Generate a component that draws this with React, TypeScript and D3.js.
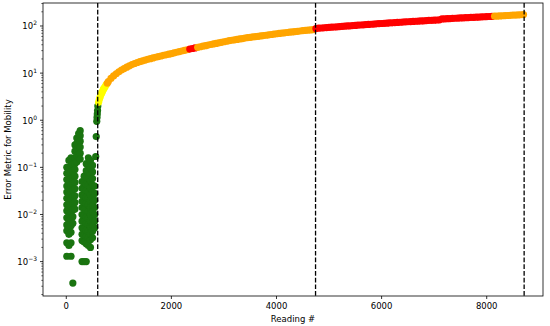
import React from "react";
import * as d3 from "d3";

// ---------- DATA ----------
// Scattered (green) readings before the first change point: [reading #, error]
const greenColumns: [number, number[]][] = [
  [10, [0.1, 0.075, 0.055, 0.04, 0.03, 0.022, 0.016, 0.012, 0.0085, 0.006, 0.0045, 0.0025, 0.0013]],
  [50, [0.14, 0.1, 0.07, 0.05, 0.035, 0.026, 0.019, 0.014, 0.01, 0.0072, 0.0052, 0.0038, 0.0022]],
  [90, [0.16, 0.11, 0.08, 0.058, 0.042, 0.03, 0.021, 0.015, 0.011, 0.008, 0.0058, 0.0042, 0.0025, 0.0013]],
  [125, [0.12, 0.085, 0.06, 0.045, 0.033, 0.024, 0.017, 0.0125, 0.009, 0.0065, 0.00035]],
  [165, [0.3, 0.22, 0.16, 0.12, 0.09, 0.065, 0.048, 0.035, 0.025, 0.018, 0.013]],
  [200, [0.42, 0.32, 0.24, 0.18, 0.13]],
  [235, [0.52, 0.4, 0.3, 0.22, 0.16]],
  [265, [0.6, 0.47, 0.36, 0.27, 0.2, 0.15]],
  [300, [0.05, 0.036, 0.026, 0.019, 0.014, 0.01, 0.0072, 0.0052, 0.0038, 0.0028, 0.001]],
  [340, [0.065, 0.047, 0.034, 0.025, 0.018, 0.013, 0.0095, 0.007, 0.005, 0.0036, 0.0026, 0.001]],
  [380, [0.12, 0.085, 0.06, 0.044, 0.032, 0.023, 0.017, 0.012, 0.0088, 0.0064, 0.0046, 0.0034, 0.0024, 0.001]],
  [420, [0.16, 0.11, 0.08, 0.058, 0.042, 0.03, 0.022, 0.016, 0.0115, 0.0083, 0.006, 0.0044, 0.0032, 0.0022]],
  [460, [0.14, 0.1, 0.072, 0.052, 0.038, 0.027, 0.02, 0.014, 0.01, 0.0075, 0.0055, 0.004, 0.0029, 0.002]],
  [500, [0.11, 0.08, 0.058, 0.042, 0.03, 0.022, 0.016, 0.0115, 0.0083, 0.006, 0.0044, 0.0032]],
  [540, [0.04, 0.028, 0.02, 0.014, 0.01, 0.0072, 0.0052]],
  [560, [0.17]],
  [570, [0.45]],
  [580, [0.95]],
  [585, [1.15]],
  [590, [1.35]],
  [595, [1.6]],
];

// Rising part of the curve right after the first change point
const rampReadings = [600, 615, 630, 645, 660, 675, 690, 705, 720, 740, 760, 780, 800];
const rampValues = [2.0, 2.4, 2.8, 3.1, 3.5, 3.8, 4.1, 4.5, 4.8, 5.2, 5.7, 6.1, 6.6];

// Rest of the curve, one value every 50 readings from 850 to 8700
const curveStart = 850;
const curveStep = 50;
const curveValues = [
  7.7, 8.7, 9.7, 10.7, 11.6, 12.5, 13.4, 14.3, 15.2, 16.0, 16.8, 17.5, 18.2, 18.9, 19.6, 20.3,
  21.0, 21.7, 22.4, 23.1, 23.8, 24.5, 25.2, 25.9, 26.8, 27.7, 28.6, 29.5, 30.4, 31.3, 32.3, 33.3,
  34.3, 35.3, 36.3, 37.3, 38.3, 39.4, 40.5, 41.6, 42.7, 43.9, 45.1, 46.3, 47.5, 48.7, 49.8, 50.9,
  52.0, 53.1, 54.2, 55.3, 56.4, 57.5, 58.5, 59.5, 60.5, 61.5, 62.5, 63.6, 64.8, 66.0, 67.2, 68.4,
  69.5, 70.6, 71.7, 72.8, 73.9, 75.0, 76.1, 77.2, 78.3, 79.4, 80.5, 81.6, 82.7, 83.8, 88.0, 89.8,
  90.6, 91.5, 92.4, 93.3, 94.3, 95.2, 96.2, 97.2, 98.1, 99.1, 100.1, 101.0, 102.0, 103.0, 104.0,
  105.0, 106.0, 107.0, 108.0, 109.0, 110.0, 111.0, 112.0, 113.0, 114.0, 115.0, 116.0, 117.0,
  118.0, 119.0, 120.0, 121.0, 122.0, 123.0, 124.0, 125.0, 126.0, 127.0, 128.0, 129.0, 130.0,
  131.0, 132.0, 133.0, 134.0, 135.0, 141.0, 142.0, 143.0, 144.0, 145.0, 146.0, 147.0, 148.0,
  149.0, 150.0, 151.0, 152.0, 153.0, 154.0, 155.0, 156.0, 157.0, 158.0, 159.0, 160.0, 161.2,
  162.4, 163.6, 164.8, 166.0, 167.2, 168.4, 169.6, 170.8, 172.0, 173.2, 174.4,
];

// Status level along the readings: breaks (reading #) and the level that follows each
const levelBreaks = [610, 770, 2330, 2470, 4745, 8125];
const levelNames = ["green", "yellow", "orange", "red", "orange", "red", "orange"];

// Change points (dashed vertical lines)
const changePoints = [598, 4743, 8712];

// Axis ticks
const xTicks = [0, 2000, 4000, 6000, 8000];
const yTickExponents = [-3, -2, -1, 0, 1, 2];

const xLabel = "Reading #";
const yLabel = "Error Metric for Mobility";

// ---------- STYLE ----------
const W = 550;
const H = 326;
const plot = { left: 43, right: 543, top: 3, bottom: 296 };
const colors: Record<string, string> = {
  green: "#1a7410",
  yellow: "#ffff00",
  orange: "#ffa500",
  red: "#ff0000",
};
const R = 3.6;
const FONT = "DejaVu Sans, sans-serif";

export default function App() {
  const x = d3.scaleLinear().domain([-443, 9071]).range([plot.left, plot.right]);
  const y = d3
    .scaleLog()
    .domain([Math.pow(10, -3.73), Math.pow(10, 2.488)])
    .range([plot.bottom, plot.top]);

  const levelAt = (r: number) => levelNames[d3.bisectRight(levelBreaks, r)];

  const greenPts: [number, number][] = [];
  greenColumns.forEach(([r, vals]) => vals.forEach((v) => greenPts.push([r, v])));

  const curvePts: { r: number; v: number; c: string }[] = [];
  rampReadings.forEach((r, i) => curvePts.push({ r, v: rampValues[i], c: levelAt(r) }));
  curveValues.forEach((v, i) => {
    const r = curveStart + i * curveStep;
    curvePts.push({ r, v, c: levelAt(r) });
  });

  const [ylo, yhi] = y.domain();
  const minorTicks: number[] = [];
  for (let e = -4; e <= 2; e++) {
    for (let k = 2; k <= 9; k++) {
      const v = k * Math.pow(10, e);
      if (v >= ylo && v <= yhi) minorTicks.push(v);
    }
  }

  return (
    <svg
      width={W}
      height={H}
      style={{ position: "absolute", left: 0, top: 0, display: "block", background: "#fff" }}
      fontFamily={FONT}
    >
      <rect x={0} y={0} width={W} height={H} fill="#fff" />
      <defs>
        <clipPath id="plotclip">
          <rect x={plot.left} y={plot.top} width={plot.right - plot.left} height={plot.bottom - plot.top} />
        </clipPath>
      </defs>

      <g clipPath="url(#plotclip)">
        {greenPts.map(([r, v], i) => (
          <circle key={"g" + i} cx={x(r)} cy={y(v)} r={R} fill={colors.green} />
        ))}
        {curvePts.map((p, i) => (
          <circle key={"c" + i} cx={x(p.r)} cy={y(p.v)} r={R} fill={colors[p.c]} />
        ))}
        {changePoints.map((c, i) => (
          <line
            key={"cp" + i}
            x1={x(c)}
            x2={x(c)}
            y1={plot.top}
            y2={plot.bottom}
            stroke="#000"
            strokeWidth={1.3}
            strokeDasharray="4.7,2"
          />
        ))}
      </g>

      {/* spines */}
      <rect
        x={plot.left}
        y={plot.top}
        width={plot.right - plot.left}
        height={plot.bottom - plot.top}
        fill="none"
        stroke="#000"
        strokeWidth={0.8}
      />

      {/* x axis */}
      {xTicks.map((t) => (
        <g key={"xt" + t}>
          <line x1={x(t)} x2={x(t)} y1={plot.bottom} y2={plot.bottom + 3} stroke="#000" strokeWidth={0.8} />
          <text x={x(t)} y={plot.bottom + 13} fontSize={8.5} textAnchor="middle" fill="#000">
            {t}
          </text>
        </g>
      ))}
      <text x={(plot.left + plot.right) / 2} y={plot.bottom + 26} fontSize={8.5} textAnchor="middle" fill="#000">
        {xLabel}
      </text>

      {/* y axis */}
      {minorTicks.map((v, i) => (
        <line key={"ym" + i} x1={plot.left - 1.7} x2={plot.left} y1={y(v)} y2={y(v)} stroke="#000" strokeWidth={0.6} />
      ))}
      {yTickExponents.map((e) => {
        const v = Math.pow(10, e);
        const lbl = e < 0 ? "\u2212" + Math.abs(e) : String(e);
        return (
          <g key={"yt" + e}>
            <line x1={plot.left - 3} x2={plot.left} y1={y(v)} y2={y(v)} stroke="#000" strokeWidth={0.8} />
            <text x={plot.left - 6} y={y(v) + 3.5} fontSize={8.5} textAnchor="end" fill="#000">
              10
              <tspan fontSize={6} dy={-4}>
                {lbl}
              </tspan>
            </text>
          </g>
        );
      })}
      <text
        transform={`translate(${11},${(plot.top + plot.bottom) / 2}) rotate(-90)`}
        fontSize={8.5}
        textAnchor="middle"
        fill="#000"
      >
        {yLabel}
      </text>
    </svg>
  );
}
